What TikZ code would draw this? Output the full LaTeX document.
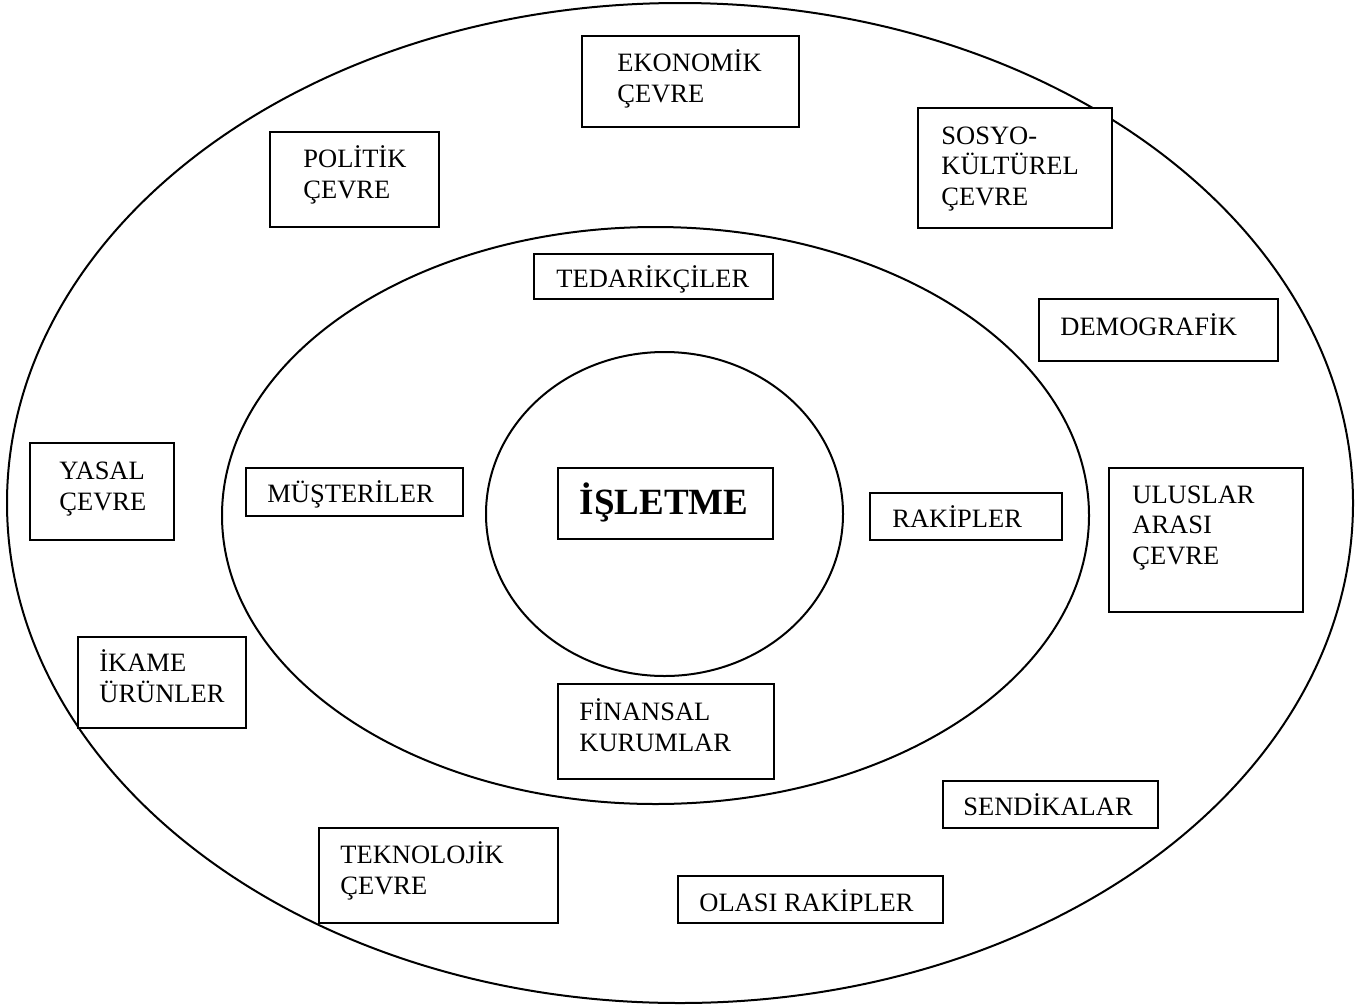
\documentclass[tikz,border=0pt]{standalone}
\usepackage{fontspec}
\setmainfont{Liberation Serif}
\usetikzlibrary{fit}
\begin{document}
\begin{tikzpicture}[x=0.5pt,y=-0.5pt,
  ring/.style={draw, line width=1pt},
  frame/.style={draw, line width=1pt, fill=white, inner sep=0pt},
  txt/.style={font=\fontsize{13.25}{15.25}\selectfont, align=left, inner sep=0pt, anchor=base west},
  big/.style={font=\fontsize{18.5}{22}\selectfont\bfseries, inner sep=0pt, anchor=base}]
\useasboundingbox (0,0) rectangle (1370,1007);

% environment rings
\draw[ring] (680,503) ellipse [x radius=673, y radius=500];
\draw[ring] (655.5,515.5) ellipse [x radius=433.5, y radius=288.5];
\draw[ring] (664.5,514) ellipse [x radius=178.5, y radius=162];

% frames
\node[frame, fit={(582,36) (799,127)}] (eko) {};
\node[frame, fit={(270,132) (439,227)}] (pol) {};
\node[frame, fit={(918,108) (1112,228)}] (sos) {};
\node[frame, fit={(534,254) (773,299)}] (ted) {};
\node[frame, fit={(1039,299) (1278,361)}] (dem) {};
\node[frame, fit={(30,443) (174,540)}] (yas) {};
\node[frame, fit={(246,468) (463,516)}] (mus) {};
\node[frame, fit={(558,468) (773,539)}] (isl) {};
\node[frame, fit={(870,493) (1062,540)}] (rak) {};
\node[frame, fit={(1109,468) (1303,612)}] (ulu) {};
\node[frame, fit={(78,637) (246,728)}] (ika) {};
\node[frame, fit={(558,684) (774,779)}] (fin) {};
\node[frame, fit={(943,781) (1158,828)}] (sen) {};
\node[frame, fit={(319,828) (558,923)}] (tek) {};
\node[frame, fit={(678,876) (943,923)}] (ola) {};

% labels (anchored at the baseline of their last line)
\node[txt] (eko-t) at (617,102) {EKONOMİK\\ÇEVRE};
\node[txt] (pol-t) at (303,198) {POLİTİK\\ÇEVRE};
\node[txt] (sos-t) at (941,205) {SOSYO-\\KÜLTÜREL\\ÇEVRE};
\node[txt] (ted-t) at (556,287) {TEDARİKÇİLER};
\node[txt] (dem-t) at (1060,335) {DEMOGRAFİK};
\node[txt] (yas-t) at (59,510) {YASAL\\ÇEVRE};
\node[txt] (mus-t) at (267,502) {MÜŞTERİLER};
\node[big] (isl-t) at (664,514) {İŞLETME};
\node[txt] (rak-t) at (892,527) {RAKİPLER};
\node[txt] (ulu-t) at (1132,564) {ULUSLAR\\ARASI\\ÇEVRE};
\node[txt] (ika-t) at (99,702) {İKAME\\ÜRÜNLER};
\node[txt] (fin-t) at (579,751) {FİNANSAL\\KURUMLAR};
\node[txt] (sen-t) at (963,815) {SENDİKALAR};
\node[txt] (tek-t) at (340,894) {TEKNOLOJİK\\ÇEVRE};
\node[txt] (ola-t) at (699,911) {OLASI RAKİPLER};
\end{tikzpicture}
\end{document}
